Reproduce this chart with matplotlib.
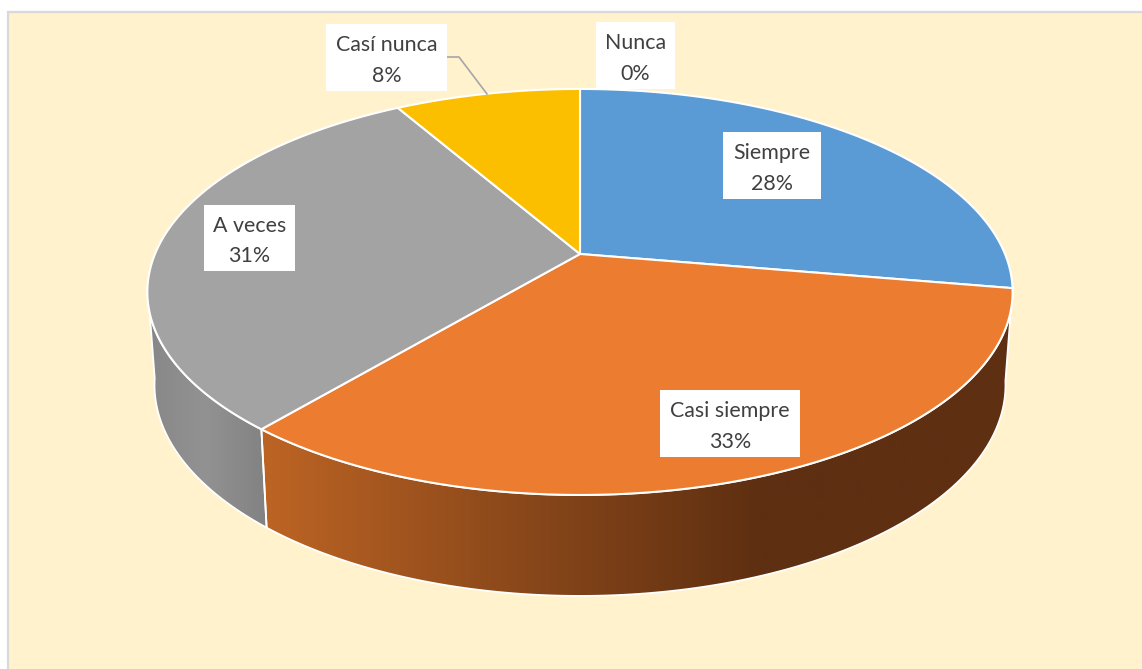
import numpy as np
import matplotlib
matplotlib.use("Agg")
import matplotlib.pyplot as plt
from matplotlib.colors import LinearSegmentedColormap
from matplotlib.patches import Polygon, Rectangle

# slightly finer than the rounded labels
categories = ["Siempre", "Casi siempre", "A veces", "Casí nunca", "Nunca"]
values = [27.7, 33.4, 30.6, 8.3, 0.0]
colors = ["#5B9BD5", "#EC7C30", "#A3A3A3", "#FCBF00", "#44546A"]

# label boxes in pixels: left, top, right, bottom
label_boxes = [(723, 132, 821, 199), (660, 390, 800, 457), (204, 205, 295, 271),
               (326, 24, 447, 91), (596, 22, 675, 89)]

TOP = dict(a=425.0, b=195.9, y0=254.0)
BOTTOM = dict(a=418.0, b=203.6, y0=345.5)
CX = 580.0
K = 0.187
GREY_WALL_END = 0.725


def project(frac, plane):
    # fraction of the circle, clockwise from 12 o'clock, with perspective
    theta = 2 * np.pi * np.asarray(frac)
    sx, sy = np.sin(theta), np.cos(theta)
    w = 1 + K * sy
    return CX + plane["a"] * sx / w, plane["y0"] - plane["b"] * sy / w


def rim(f0, f1, plane):
    n = max(int(abs(f1 - f0) * 400), 2)
    x, y = project(np.linspace(f0, f1, n), plane)
    return np.column_stack([x, y])


def draw_wall(ax, f0, f1, stops):
    pts = np.vstack([rim(f0, f1, TOP), rim(f1, f0, BOTTOM)])
    poly = Polygon(pts, closed=True, fc="none", ec="none")
    ax.add_patch(poly)
    xs = [s[0] for s in stops]
    x0, x1 = xs[0], xs[-1]
    cmap = LinearSegmentedColormap.from_list(
        "wall", [((s[0] - x0) / (x1 - x0), s[1]) for s in stops])
    grad = np.linspace(0, 1, 512).reshape(1, -1)
    im = ax.imshow(grad, cmap=cmap, extent=(x0, x1, 669, 0), aspect="auto", zorder=2)
    im.set_clip_path(poly)
    ax.add_patch(Polygon(pts, closed=True, fc="none", ec="white", lw=1.3, zorder=3))


fig = plt.figure(figsize=(11.42, 6.69), dpi=100, facecolor="white")
ax = fig.add_axes([0, 0, 1, 1])
ax.set_xlim(0, 1142)
ax.set_ylim(669, 0)
ax.axis("off")

ax.add_patch(Rectangle((8, 12), 1150, 670, fc="#FFF2CC", ec="#D9D9D9", lw=1.6, zorder=0))

edges = np.cumsum([0] + values) / sum(values)

draw_wall(ax, edges[1], edges[2], [(140, "#BD6424"), (261, "#BD6424"), (500, "#8E4A1B"),
                                   (760, "#5E2F11"), (1030, "#5E2F11")])
draw_wall(ax, edges[2], GREY_WALL_END, [(140, "#868686"), (205, "#929292"), (275, "#808080")])

for i, v in enumerate(values):
    if v == 0:
        continue
    pts = np.vstack([[CX, TOP["y0"]], rim(edges[i], edges[i + 1], TOP)])
    ax.add_patch(Polygon(pts, closed=True, fc=colors[i], ec="white", lw=1.5, zorder=4))

# leader line for the small slice
ax.plot([447, 459, 487], [57, 57, 94], color="#A6A6A6", lw=1.2, zorder=5)

for cat, v, box in zip(categories, values, label_boxes):
    left, top, right, bottom = box
    ax.add_patch(Rectangle((left, top), right - left, bottom - top, fc="white", ec="none", zorder=6))
    ax.text((left + right) / 2, (top + bottom) / 2 + 3, f"{cat}\n{round(v)}%", ha="center", va="center",
            family="Lato", fontsize=15.4, color="#404040", linespacing=1.65, zorder=7)

fig.savefig("out.png", dpi=100)
